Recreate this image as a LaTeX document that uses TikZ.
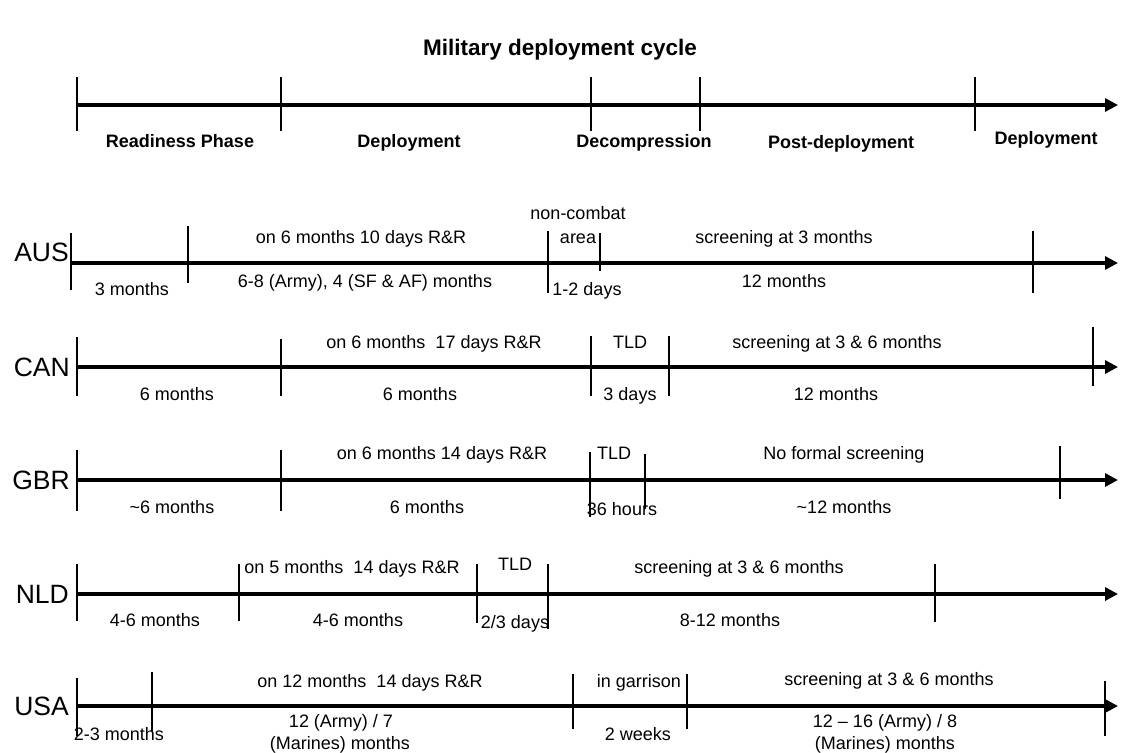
\documentclass[tikz,border=0pt]{standalone}
\usepackage{fontspec}
\setmainfont{Liberation Sans}
\usetikzlibrary{arrows.meta}
\newcommand\tkmark[4]{\draw[tickline] (#1,#2-#3) -- (#1,#2+#4);}
\begin{document}
\begin{tikzpicture}[x=1pt,y=-1pt,
  axis/.style={line width=4.5pt,-{Triangle[length=13pt,width=13pt]}},
  tickline/.style={line width=1.3pt},
  lbl/.style={inner sep=0pt,anchor=base,font=\fontsize{18}{21}\selectfont},
  hdr/.style={inner sep=0pt,anchor=base,font=\fontsize{18}{21}\selectfont\bfseries},
  ttl/.style={inner sep=0pt,anchor=base,font=\fontsize{22.5}{26}\selectfont\bfseries},
  ctry/.style={inner sep=0pt,anchor=base east,font=\fontsize{26.5}{30}\selectfont},
  ]
\useasboundingbox (0,0) rectangle (1121,752);
\node[ttl] (title) at (560,56) {Military deployment cycle};

% header
\coordinate (h0) at (77,105); \coordinate (h1) at (1118,105);
\draw[axis] (h0) -- (h1);
\foreach \x in {77,281,591,700,975} {\tkmark{\x}{105}{28}{26}}
\node[hdr] (hready) at (180,147) {Readiness Phase};
\node[hdr] (hdep) at (409,147) {Deployment};
\node[hdr] (hdec) at (644,147) {Decompression};
\node[hdr] (hpost) at (841,148) {Post-deployment};
\node[hdr] (hdep2) at (1046,144) {Deployment};

% AUS
\node[ctry] (aus) at (69,261.5) {AUS};
\coordinate (a0) at (71,263); \coordinate (a1) at (1118,263);
\draw[axis] (a0) -- (a1);
\tkmark{71}{263}{30}{27}\tkmark{188}{263}{37}{20}\tkmark{548}{263}{32}{30}
\tkmark{600}{263}{30}{8}\tkmark{1033}{263}{32}{30}
\node[lbl] (aus1) at (361,243) {on 6 months 10 days R\&R};
\node[lbl] (aus2) at (578,219) {non-combat};
\node[lbl] (aus3) at (578,243) {area};
\node[lbl] (aus4) at (784,243) {screening at 3 months};
\node[lbl] (aus5) at (132,295) {3 months};
\node[lbl] (aus6) at (365,287) {6-8 (Army), 4 (SF \& AF) months};
\node[lbl] (aus7) at (587,295) {1-2 days};
\node[lbl] (aus8) at (784,287) {12 months};

% CAN
\node[ctry] (can) at (70,376.5) {CAN};
\coordinate (c0) at (77,367); \coordinate (c1) at (1118,367);
\draw[axis] (c0) -- (c1);
\tkmark{77}{367}{30}{29}\tkmark{281}{367}{28}{29}\tkmark{591}{367}{31}{29}
\tkmark{669}{367}{31}{29}\tkmark{1093}{367}{40}{19}
\node[lbl] (can1) at (434,348) {on 6 months\ \ 17 days R\&R};
\node[lbl] (can2) at (630,348) {TLD};
\node[lbl] (can3) at (837,348) {screening at 3 \& 6 months};
\node[lbl] (can4) at (177,400) {6 months};
\node[lbl] (can5) at (420,400) {6 months};
\node[lbl] (can6) at (630,400) {3 days};
\node[lbl] (can7) at (836,400) {12 months};

% GBR
\node[ctry] (gbr) at (70,489.5) {GBR};
\coordinate (g0) at (77,480); \coordinate (g1) at (1118,480);
\draw[axis] (g0) -- (g1);
\tkmark{77}{480}{30}{31}\tkmark{281}{480}{30}{31}\tkmark{590}{480}{28}{37}
\tkmark{645}{480}{26}{29}\tkmark{1060}{480}{34}{19}
\node[lbl] (gbr1) at (442,459) {on 6 months 14 days R\&R};
\node[lbl] (gbr2) at (614,459) {TLD};
\node[lbl] (gbr3) at (844,459) {No formal screening};
\node[lbl] (gbr4) at (172,513) {\textasciitilde 6 months};
\node[lbl] (gbr5) at (427,513) {6 months};
\node[lbl] (gbr6) at (622,515) {36 hours};
\node[lbl] (gbr7) at (844,513) {\textasciitilde 12 months};

% NLD
\node[ctry] (nld) at (69,603.5) {NLD};
\coordinate (n0) at (77,594); \coordinate (n1) at (1118,594);
\draw[axis] (n0) -- (n1);
\tkmark{77}{594}{30}{27}\tkmark{239}{594}{30}{27}\tkmark{477}{594}{30}{29}
\tkmark{548}{594}{30}{35}\tkmark{935}{594}{30}{28}
\node[lbl] (nld1) at (352,573) {on 5 months\ \ 14 days R\&R};
\node[lbl] (nld2) at (515,570) {TLD};
\node[lbl] (nld3) at (739,573) {screening at 3 \& 6 months};
\node[lbl] (nld4) at (155,626) {4-6 months};
\node[lbl] (nld5) at (358,626) {4-6 months};
\node[lbl] (nld6) at (515,628) {2/3 days};
\node[lbl] (nld7) at (730,626) {8-12 months};

% USA
\node[ctry] (usa) at (69,715.5) {USA};
\coordinate (u0) at (77,706); \coordinate (u1) at (1118,706);
\draw[axis] (u0) -- (u1);
\tkmark{77}{706}{28}{30}\tkmark{152}{706}{34}{25}\tkmark{573}{706}{32}{23}
\tkmark{687}{706}{32}{23}\tkmark{1105}{706}{25}{30}
\node[lbl] (usa1) at (370,687) {on 12 months\ \ 14 days R\&R};
\node[lbl] (usa2) at (639,687) {in garrison};
\node[lbl] (usa3) at (889,685) {screening at 3 \& 6 months};
\node[lbl] (usa4) at (119,740) {2-3 months};
\node[lbl] (usa5) at (341,727) {12 (Army) / 7};
\node[lbl] (usa6) at (340,749) {(Marines) months};
\node[lbl] (usa7) at (638,740) {2 weeks};
\node[lbl] (usa8) at (885,727) {12 – 16 (Army) / 8};
\node[lbl] (usa9) at (885,749) {(Marines) months};
\end{tikzpicture}
\end{document}
